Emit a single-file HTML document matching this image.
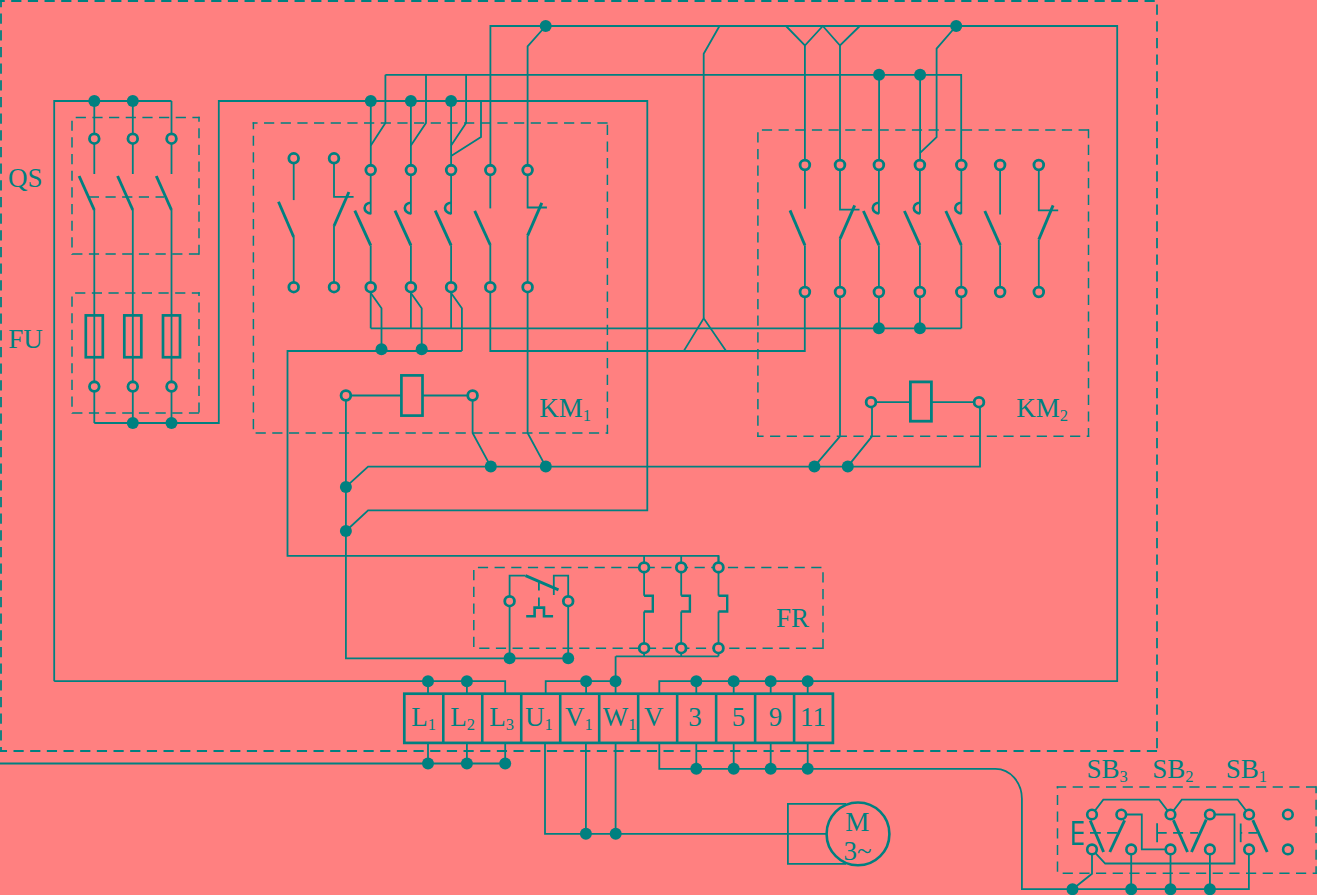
<!DOCTYPE html><html><head><meta charset="utf-8"><style>html,body{margin:0;padding:0;background:#ff8080;}svg{display:block}text{font-family:"Liberation Serif",serif;fill:#008080}</style></head><body>
<svg width="1317" height="895" viewBox="0 0 1317 895">
<rect width="1317" height="895" fill="#ff8080"/>
<g fill="none" stroke="#008080" stroke-width="1.5" stroke-dasharray="10.5 6.2">
</g>
<g fill="none" stroke="#008080" stroke-width="1.8" stroke-linejoin="miter">
<path d="M54.2,681.2V101H171.5"/>
<path d="M94.3,101V138.7"/>
<path d="M94.3,138.7V174"/>
<path d="M94.3,210V423"/>
<path d="M132.8,101V138.7"/>
<path d="M132.8,138.7V174"/>
<path d="M132.8,210V423"/>
<path d="M171.5,101V138.7"/>
<path d="M171.5,138.7V174"/>
<path d="M171.5,210V423"/>
<path d="M94.3,423H218.8V101H647.3V510.3H368.1L345.9,531"/>
<path d="M385.4,74.8V123L370.8,145.5"/>
<path d="M426.0,74.8V123L410.9,145.5"/>
<path d="M466.1,74.8V123L451.1,145.5"/>
<path d="M385.4,74.8H961.2V165"/>
<path d="M481,101V137.1L451.1,156"/>
<path d="M370.8,101V170.1"/>
<path d="M410.9,101V170.1"/>
<path d="M451.1,101V170.1"/>
<path d="M490.4,170.1V26.0H1117.2V681.2H659.3V693.6"/>
<path d="M545.7,26.0L527.6,46.4V170.1"/>
<path d="M293.7,158.3V200.1"/>
<path d="M293.7,237V287.2"/>
<path d="M334,158.3V196.8H353.6"/>
<path d="M334,226V287.2"/>
<path d="M370.7,170.1V214.3"/>
<path d="M370.7,245.3V328.3"/>
<path d="M370.7,293L381.5,308.2V351"/>
<path d="M410.9,170.1V214.3"/>
<path d="M410.9,245.3V328.3"/>
<path d="M410.9,293L421.7,308.2V351"/>
<path d="M451.1,170.1V214.3"/>
<path d="M451.1,245.3V328.3"/>
<path d="M451.1,293L461.90000000000003,308.2V351"/>
<path d="M490.3,170.1V208.4"/>
<path d="M490.3,245V351H804.8V292"/>
<path d="M527.6,170.1V207.5H546.9"/>
<path d="M527.6,235.6V432.9L545.8,466.6"/>
<path d="M370.7,328.3H961.3"/>
<path d="M461.8,351H287.5V555.9H718.5V567.4"/>
<path d="M345.9,395.5H472.6"/>
<path d="M345.9,395.5V658.3H568.2V601.2"/>
<path d="M509.6,658.3V601.2"/>
<path d="M472.6,395.5V432.9L490.8,466.6"/>
<path d="M345.9,486.9L368.1,466.6H980V402.2"/>
<path d="M719.5,26.0L703.7,53.8V318.3"/>
<path d="M683.7,351.1L703.7,318.3L726.1,351.1"/>
<path d="M786,26.0L804.9,45.5L822.8,26.0L840,45.5L859.8,26.0"/>
<path d="M804.9,45.5V165"/>
<path d="M840,45.5V165"/>
<path d="M879.1,74.8V165"/>
<path d="M920.1,74.8V165"/>
<path d="M956.2,26.0L936.6,48.7V137.1L920.1,152.9"/>
<path d="M804.9,165V208.8"/>
<path d="M804.9,245.2V292"/>
<path d="M840,165V209.7H859.5"/>
<path d="M840,238.8V436.4L814.4,466.4"/>
<path d="M878.9,165V213.8"/>
<path d="M878.9,245.2V292"/>
<path d="M919.9,165V213.8"/>
<path d="M919.9,245.2V292"/>
<path d="M961.3,165V213.8"/>
<path d="M961.3,245.2V292"/>
<path d="M878.9,292V328.3"/>
<path d="M919.9,292V328.3"/>
<path d="M961.3,292V328.3"/>
<path d="M1000.1,165V214.5"/>
<path d="M1000.1,245.2V292"/>
<path d="M1038.8,165V210.4H1058.2"/>
<path d="M1038.8,239.5V292"/>
<path d="M871,402.2H979"/>
<path d="M872,402.2V436.4L847.8,466.4"/>
<path d="M644.1,555.9V595.7"/>
<path d="M644.1,611.5V656.3"/>
<path d="M681.2,555.9V595.7"/>
<path d="M681.2,611.5V656.3"/>
<path d="M718.5,555.9V595.7"/>
<path d="M718.5,611.5V656.3"/>
<path d="M615.8,656.3H718.5"/>
<path d="M615.6,656.3V693.6M615.6,742.9V833.8"/>
<path d="M509.6,601.2V575.6H525.5"/>
<path d="M568.2,601.2V575.6H553.8V594.9"/>
<path d="M538.9,582.5V590.5M538.9,597.4V606.5"/>
<path d="M54.2,681.2H505.2V693.6"/>
<path d="M428,681.2V693.6"/>
<path d="M466.9,681.2V693.6"/>
<path d="M545.7,693.6V681.2H615.5"/>
<path d="M586.1,681.2V693.6"/>
<path d="M696.3,681.2V693.6"/>
<path d="M696.3,742.9V768.8"/>
<path d="M733.7,681.2V693.6"/>
<path d="M733.7,742.9V768.8"/>
<path d="M770.7,681.2V693.6"/>
<path d="M770.7,742.9V768.8"/>
<path d="M807.7,681.2V693.6"/>
<path d="M807.7,742.9V768.8"/>
<path d="M0,763.5H505.2V742.9"/>
<path d="M428,742.9V763.5"/>
<path d="M466.9,742.9V763.5"/>
<path d="M545,742.9V833.8H826.5"/>
<path d="M585.9,742.9V833.8"/>
<path d="M659.3,742.9V768.8H995.5A26.4,30 0 0 1 1021.9,798.9V889.2H1248.9V849.4"/>
<path d="M846,803.8H787.9V863.9H846"/>
<path d="M1090,832.8H1100.8M1107.1,832.8H1117.5"/>
<path d="M1157.1,823.2V842.3"/>
<path d="M1157.1,832.8H1166.7M1173.1,832.8H1183.1M1190.2,832.8H1198.2"/>
<path d="M1240.7,823.5V842.2"/>
<path d="M1240.7,832.8H1242.2M1248.4,832.8H1257.1"/>
<path d="M1092,814.5L1103.3,799.7H1159.2L1170.5,814.5L1181.8,799.7H1237.7L1249.1,814.5"/>
<path d="M1121.3,814.5H1141.8V849.4H1170.5"/>
<path d="M1209.9,814.5H1234.5V863.5H1105.2L1092,849.4V873.8L1072.5,889.2"/>
<path d="M1131.2,849.4V889.2"/>
<path d="M1170.5,849.4V889.2"/>
<path d="M1209.9,849.4V889.2"/>
</g>
<g fill="none" stroke="#008080" stroke-width="2.9">
<path d="M79.1,176L94.3,210"/>
<path d="M117.60000000000001,176L132.8,210"/>
<path d="M156.3,176L171.5,210"/>
<path d="M278.5,201.8L293.7,237"/>
<path d="M348.9,192L334,226"/>
<path d="M354.8,210.7L370.7,245.3"/>
<path d="M395.0,210.7L410.9,245.3"/>
<path d="M435.20000000000005,210.7L451.1,245.3"/>
<path d="M474.7,210.8L490.3,245"/>
<path d="M541.8,202.8L527.6,235.6"/>
<path d="M790,210.4L804.9,245.2"/>
<path d="M854.7,205.4L840,238.8"/>
<path d="M863.4,211L878.9,245.2"/>
<path d="M904.4,211L919.9,245.2"/>
<path d="M945.8,211L961.3,245.2"/>
<path d="M984.8,211L1000.1,245.2"/>
<path d="M1053.1,205.4L1038.8,239.5"/>
<path d="M525.5,575.6L558.5,589.8"/>
<path d="M1090.2,820.5L1103.6,852"/>
<path d="M1124.6,820.3L1109.8,852"/>
<path d="M1173.4,820.1L1187.5,852"/>
<path d="M1206.2,819.6L1191.5,852"/>
<path d="M1252.8,820.1L1267.2,852"/>
</g>
<path d="M0.10,1H1157.90" fill="none" stroke="#008080" stroke-width="1.8" stroke-dasharray="10.2 6.467" stroke-dashoffset="5.57"/>
<path d="M1,0.10V751.90" fill="none" stroke="#008080" stroke-width="1.8" stroke-dasharray="10.2 6.467" stroke-dashoffset="3.17"/>
<path d="M1157,0.10V751.90" fill="none" stroke="#008080" stroke-width="1.8" stroke-dasharray="10.2 6.467" stroke-dashoffset="12.17"/>
<path d="M0.10,751H1157.90" fill="none" stroke="#008080" stroke-width="1.8" stroke-dasharray="10.2 6.467" stroke-dashoffset="3.27"/>
<path d="M71.25,117.6H199.75" fill="none" stroke="#008080" stroke-width="1.5" stroke-dasharray="10.2 6.467" stroke-dashoffset="12.20"/>
<path d="M72,116.85V254.65" fill="none" stroke="#008080" stroke-width="1.5" stroke-dasharray="10.2 6.467" stroke-dashoffset="12.88"/>
<path d="M199,116.85V254.65" fill="none" stroke="#008080" stroke-width="1.5" stroke-dasharray="10.2 6.467" stroke-dashoffset="5.38"/>
<path d="M71.25,253.9H199.75" fill="none" stroke="#008080" stroke-width="1.5" stroke-dasharray="10.2 6.467" stroke-dashoffset="15.70"/>
<path d="M88.50,197.1H164.00" fill="none" stroke="#008080" stroke-width="1.5" stroke-dasharray="10.2 6.467" stroke-dashoffset="16.33"/>
<path d="M71.25,293H199.75" fill="none" stroke="#008080" stroke-width="1.5" stroke-dasharray="10.2 6.467" stroke-dashoffset="12.77"/>
<path d="M72,292.25V413.75" fill="none" stroke="#008080" stroke-width="1.5" stroke-dasharray="10.2 6.467" stroke-dashoffset="12.43"/>
<path d="M199,292.25V413.75" fill="none" stroke="#008080" stroke-width="1.5" stroke-dasharray="10.2 6.467" stroke-dashoffset="6.51"/>
<path d="M71.25,413H199.75" fill="none" stroke="#008080" stroke-width="1.5" stroke-dasharray="10.2 6.467" stroke-dashoffset="15.70"/>
<rect x="85.8" y="315.4" width="17" height="41.85" fill="none" stroke="#008080" stroke-width="2.7"/>
<rect x="124.3" y="315.4" width="17" height="41.85" fill="none" stroke="#008080" stroke-width="2.7"/>
<rect x="163.0" y="315.4" width="17" height="41.85" fill="none" stroke="#008080" stroke-width="2.7"/>
<path d="M252.65,123.1H608.15" fill="none" stroke="#008080" stroke-width="1.5" stroke-dasharray="10.2 6.467" stroke-dashoffset="5.27"/>
<path d="M253.4,122.35V433.65" fill="none" stroke="#008080" stroke-width="1.5" stroke-dasharray="10.2 6.467" stroke-dashoffset="3.38"/>
<path d="M607.4,122.35V433.65" fill="none" stroke="#008080" stroke-width="1.5" stroke-dasharray="10.2 6.467" stroke-dashoffset="14.25"/>
<path d="M252.65,432.9H608.15" fill="none" stroke="#008080" stroke-width="1.5" stroke-dasharray="10.2 6.467" stroke-dashoffset="13.72"/>
<path d="M370.7,202.8A6.1,5.3 0 0 0 370.7,213.4" fill="none" stroke="#008080" stroke-width="2.6"/>
<path d="M410.9,202.8A6.1,5.3 0 0 0 410.9,213.4" fill="none" stroke="#008080" stroke-width="2.6"/>
<path d="M451.1,202.8A6.1,5.3 0 0 0 451.1,213.4" fill="none" stroke="#008080" stroke-width="2.6"/>
<rect x="401.4" y="375.4" width="21.1" height="40.2" fill="#ff8080" stroke="#008080" stroke-width="2.7"/>
<path d="M757.15,130H1089.25" fill="none" stroke="#008080" stroke-width="1.5" stroke-dasharray="10.2 6.467" stroke-dashoffset="11.92"/>
<path d="M757.9,129.25V436.95" fill="none" stroke="#008080" stroke-width="1.5" stroke-dasharray="10.2 6.467" stroke-dashoffset="13.65"/>
<path d="M1088.5,129.25V436.95" fill="none" stroke="#008080" stroke-width="1.5" stroke-dasharray="10.2 6.467" stroke-dashoffset="1.18"/>
<path d="M757.15,436.2H1089.25" fill="none" stroke="#008080" stroke-width="1.5" stroke-dasharray="10.2 6.467" stroke-dashoffset="3.75"/>
<path d="M878.9,202.8A6.1,5.3 0 0 0 878.9,213.4" fill="none" stroke="#008080" stroke-width="2.6"/>
<path d="M919.9,202.8A6.1,5.3 0 0 0 919.9,213.4" fill="none" stroke="#008080" stroke-width="2.6"/>
<path d="M961.3,202.8A6.1,5.3 0 0 0 961.3,213.4" fill="none" stroke="#008080" stroke-width="2.6"/>
<rect x="910.4" y="381.9" width="21" height="39.3" fill="#ff8080" stroke="#008080" stroke-width="2.8"/>
<path d="M473.05,567.4H823.75" fill="none" stroke="#008080" stroke-width="1.5" stroke-dasharray="10.2 6.467" stroke-dashoffset="11.80"/>
<path d="M473.8,566.65V648.95" fill="none" stroke="#008080" stroke-width="1.5" stroke-dasharray="10.2 6.467" stroke-dashoffset="13.20"/>
<path d="M823,566.65V648.95" fill="none" stroke="#008080" stroke-width="1.5" stroke-dasharray="10.2 6.467" stroke-dashoffset="11.00"/>
<path d="M473.05,648.2H823.75" fill="none" stroke="#008080" stroke-width="1.5" stroke-dasharray="10.2 6.467" stroke-dashoffset="10.50"/>
<path d="M644.1,595.7H652.8000000000001V611.5H644.1" fill="none" stroke="#008080" stroke-width="2.4"/>
<path d="M681.2,595.7H689.9000000000001V611.5H681.2" fill="none" stroke="#008080" stroke-width="2.4"/>
<path d="M718.5,595.7H727.2V611.5H718.5" fill="none" stroke="#008080" stroke-width="2.4"/>
<path d="M526.2,616.3H534.6V607.6H544V616.3H553.1" fill="none" stroke="#008080" stroke-width="2.6"/>
<rect x="404.3" y="693.7" width="428.6" height="49.2" fill="none" stroke="#008080" stroke-width="2.7"/>
<path d="M443.28,693.7V742.9" stroke="#008080" stroke-width="2.6"/>
<path d="M482.26,693.7V742.9" stroke="#008080" stroke-width="2.6"/>
<path d="M521.24,693.7V742.9" stroke="#008080" stroke-width="2.6"/>
<path d="M560.22,693.7V742.9" stroke="#008080" stroke-width="2.6"/>
<path d="M599.2,693.7V742.9" stroke="#008080" stroke-width="2.6"/>
<path d="M638.18,693.7V742.9" stroke="#008080" stroke-width="2.6"/>
<path d="M677.16,693.7V742.9" stroke="#008080" stroke-width="2.6"/>
<path d="M716.14,693.7V742.9" stroke="#008080" stroke-width="2.6"/>
<path d="M755.12,693.7V742.9" stroke="#008080" stroke-width="2.6"/>
<path d="M794.1,693.7V742.9" stroke="#008080" stroke-width="2.6"/>
<circle cx="858" cy="833.9" r="31.4" fill="none" stroke="#008080" stroke-width="2.6"/>
<path d="M1056.75,787.1H1316.85" fill="none" stroke="#008080" stroke-width="1.5" stroke-dasharray="10.2 6.467" stroke-dashoffset="0.75"/>
<path d="M1057.5,786.35V873.95" fill="none" stroke="#008080" stroke-width="1.5" stroke-dasharray="10.2 6.467" stroke-dashoffset="8.11"/>
<path d="M1316.1,786.35V873.95" fill="none" stroke="#008080" stroke-width="1.5" stroke-dasharray="10.2 6.467" stroke-dashoffset="3.35"/>
<path d="M1056.75,873.2H1316.85" fill="none" stroke="#008080" stroke-width="1.5" stroke-dasharray="10.2 6.467" stroke-dashoffset="10.75"/>
<path d="M1083.6,822.2H1073.4V843.8H1083.6M1073.4,832.9H1083.6" fill="none" stroke="#008080" stroke-width="2.4"/>
<g fill="#ff8080" stroke="#008080">
<circle cx="94.3" cy="138.7" r="4.85" stroke-width="2.8"/>
<circle cx="94.3" cy="386.6" r="4.85" stroke-width="2.8"/>
<circle cx="132.8" cy="138.7" r="4.85" stroke-width="2.8"/>
<circle cx="132.8" cy="386.6" r="4.85" stroke-width="2.8"/>
<circle cx="171.5" cy="138.7" r="4.85" stroke-width="2.8"/>
<circle cx="171.5" cy="386.6" r="4.85" stroke-width="2.8"/>
<circle cx="293.7" cy="158.3" r="4.85" stroke-width="2.8"/>
<circle cx="293.7" cy="287.2" r="4.85" stroke-width="2.8"/>
<circle cx="334" cy="158.3" r="4.85" stroke-width="2.8"/>
<circle cx="334" cy="287.2" r="4.85" stroke-width="2.8"/>
<circle cx="370.7" cy="170.1" r="4.85" stroke-width="2.8"/>
<circle cx="370.7" cy="287.2" r="4.85" stroke-width="2.8"/>
<circle cx="410.9" cy="170.1" r="4.85" stroke-width="2.8"/>
<circle cx="410.9" cy="287.2" r="4.85" stroke-width="2.8"/>
<circle cx="451.1" cy="170.1" r="4.85" stroke-width="2.8"/>
<circle cx="451.1" cy="287.2" r="4.85" stroke-width="2.8"/>
<circle cx="490.3" cy="170.1" r="4.85" stroke-width="2.8"/>
<circle cx="490.3" cy="287.2" r="4.85" stroke-width="2.8"/>
<circle cx="527.6" cy="170.1" r="4.85" stroke-width="2.8"/>
<circle cx="527.6" cy="287.2" r="4.85" stroke-width="2.8"/>
<circle cx="345.9" cy="395.5" r="4.85" stroke-width="2.8"/>
<circle cx="472.6" cy="395.5" r="4.85" stroke-width="2.8"/>
<circle cx="804.9" cy="165" r="4.85" stroke-width="2.8"/>
<circle cx="804.9" cy="292" r="4.85" stroke-width="2.8"/>
<circle cx="840.0" cy="165" r="4.85" stroke-width="2.8"/>
<circle cx="840.0" cy="292" r="4.85" stroke-width="2.8"/>
<circle cx="878.9" cy="165" r="4.85" stroke-width="2.8"/>
<circle cx="878.9" cy="292" r="4.85" stroke-width="2.8"/>
<circle cx="919.9" cy="165" r="4.85" stroke-width="2.8"/>
<circle cx="919.9" cy="292" r="4.85" stroke-width="2.8"/>
<circle cx="961.3" cy="165" r="4.85" stroke-width="2.8"/>
<circle cx="961.3" cy="292" r="4.85" stroke-width="2.8"/>
<circle cx="1000.1" cy="165" r="4.85" stroke-width="2.8"/>
<circle cx="1000.1" cy="292" r="4.85" stroke-width="2.8"/>
<circle cx="1038.8" cy="165" r="4.85" stroke-width="2.8"/>
<circle cx="1038.8" cy="292" r="4.85" stroke-width="2.8"/>
<circle cx="871" cy="402.2" r="4.85" stroke-width="2.8"/>
<circle cx="979" cy="402.2" r="4.85" stroke-width="2.8"/>
<circle cx="644.1" cy="567.4" r="4.85" stroke-width="2.8"/>
<circle cx="644.1" cy="648.2" r="4.85" stroke-width="2.8"/>
<circle cx="681.2" cy="567.4" r="4.85" stroke-width="2.8"/>
<circle cx="681.2" cy="648.2" r="4.85" stroke-width="2.8"/>
<circle cx="718.5" cy="567.4" r="4.85" stroke-width="2.8"/>
<circle cx="718.5" cy="648.2" r="4.85" stroke-width="2.8"/>
<circle cx="509.6" cy="601.2" r="4.85" stroke-width="2.8"/>
<circle cx="568.2" cy="601.2" r="4.85" stroke-width="2.8"/>
<circle cx="1092" cy="814.5" r="4.8" stroke-width="2.6"/>
<circle cx="1121.3" cy="814.5" r="4.8" stroke-width="2.6"/>
<circle cx="1092" cy="849.4" r="4.8" stroke-width="2.6"/>
<circle cx="1131.2" cy="849.4" r="4.8" stroke-width="2.6"/>
<circle cx="1170.5" cy="814.5" r="4.8" stroke-width="2.6"/>
<circle cx="1209.9" cy="814.5" r="4.8" stroke-width="2.6"/>
<circle cx="1170.5" cy="849.4" r="4.8" stroke-width="2.6"/>
<circle cx="1209.9" cy="849.4" r="4.8" stroke-width="2.6"/>
<circle cx="1249.1" cy="814.5" r="4.8" stroke-width="2.6"/>
<circle cx="1249.1" cy="849.4" r="4.8" stroke-width="2.6"/>
<circle cx="1287.9" cy="814.5" r="4.8" stroke-width="2.6"/>
<circle cx="1287.9" cy="849.4" r="4.8" stroke-width="2.6"/>
</g>
<g fill="#008080">
<circle cx="94.3" cy="101" r="6.0"/>
<circle cx="132.8" cy="101" r="6.0"/>
<circle cx="132.8" cy="423" r="6.0"/>
<circle cx="171.5" cy="423" r="6.0"/>
<circle cx="370.8" cy="101" r="6.0"/>
<circle cx="410.9" cy="101" r="6.0"/>
<circle cx="451.1" cy="101" r="6.0"/>
<circle cx="545.7" cy="26.0" r="6.0"/>
<circle cx="381.5" cy="349.3" r="6.0"/>
<circle cx="421.7" cy="349.3" r="6.0"/>
<circle cx="345.9" cy="486.9" r="6.0"/>
<circle cx="345.9" cy="531" r="6.0"/>
<circle cx="490.8" cy="466.6" r="6.0"/>
<circle cx="545.8" cy="466.6" r="6.0"/>
<circle cx="879.1" cy="74.8" r="6.0"/>
<circle cx="920.1" cy="74.8" r="6.0"/>
<circle cx="956.2" cy="26.0" r="6.0"/>
<circle cx="878.9" cy="328.3" r="6.0"/>
<circle cx="919.9" cy="328.3" r="6.0"/>
<circle cx="814.4" cy="466.4" r="6.0"/>
<circle cx="847.8" cy="466.4" r="6.0"/>
<circle cx="509.6" cy="658.3" r="6.0"/>
<circle cx="568.2" cy="658.3" r="6.0"/>
<circle cx="428" cy="681.2" r="6.0"/>
<circle cx="466.9" cy="681.2" r="6.0"/>
<circle cx="586.1" cy="681.2" r="6.0"/>
<circle cx="615.5" cy="681.2" r="6.0"/>
<circle cx="696.3" cy="681.2" r="6.0"/>
<circle cx="696.3" cy="768.8" r="6.0"/>
<circle cx="733.7" cy="681.2" r="6.0"/>
<circle cx="733.7" cy="768.8" r="6.0"/>
<circle cx="770.7" cy="681.2" r="6.0"/>
<circle cx="770.7" cy="768.8" r="6.0"/>
<circle cx="807.7" cy="681.2" r="6.0"/>
<circle cx="807.7" cy="768.8" r="6.0"/>
<circle cx="428" cy="763.5" r="6.0"/>
<circle cx="466.9" cy="763.5" r="6.0"/>
<circle cx="505.2" cy="763.5" r="6.0"/>
<circle cx="585.9" cy="833.8" r="6.0"/>
<circle cx="615.7" cy="833.8" r="6.0"/>
<circle cx="1072.5" cy="889.2" r="6.0"/>
<circle cx="1131.2" cy="889.2" r="6.0"/>
<circle cx="1170.5" cy="889.2" r="6.0"/>
<circle cx="1209.9" cy="889.2" r="6.0"/>
</g>
<text x="8.0" y="186.6" font-size="27" text-anchor="start">QS</text>
<text x="8.3" y="347.6" font-size="27" text-anchor="start">FU</text>
<text x="539.3" y="417.3" font-size="27" text-anchor="start">KM<tspan font-size="16.5" dy="4.1">1</tspan></text>
<text x="1016.3" y="417.0" font-size="27" text-anchor="start">KM<tspan font-size="16.5" dy="4.1">2</tspan></text>
<text x="776.0" y="627.4" font-size="27" text-anchor="start">FR</text>
<text x="423.7" y="726.3" font-size="27" text-anchor="middle">L<tspan font-size="16.5" dy="3.4">1</tspan></text>
<text x="462.7" y="726.3" font-size="27" text-anchor="middle">L<tspan font-size="16.5" dy="3.4">2</tspan></text>
<text x="501.7" y="726.3" font-size="27" text-anchor="middle">L<tspan font-size="16.5" dy="3.4">3</tspan></text>
<text x="538.8" y="726.3" font-size="27" text-anchor="middle">U<tspan font-size="16.5" dy="3.4">1</tspan></text>
<text x="578.8" y="726.3" font-size="27" text-anchor="middle">V<tspan font-size="16.5" dy="3.4">1</tspan></text>
<text x="619.7" y="726.3" font-size="27" text-anchor="middle">W<tspan font-size="16.5" dy="3.4">1</tspan></text>
<text x="653.8" y="726.3" font-size="27" text-anchor="middle">V</text>
<text x="694.9" y="726.3" font-size="27" text-anchor="middle">3</text>
<text x="738.5" y="726.3" font-size="27" text-anchor="middle">5</text>
<text x="775.6" y="726.3" font-size="27" text-anchor="middle">9</text>
<text x="813.1" y="726.3" font-size="27" text-anchor="middle">11</text>
<text x="857.3" y="831.1" font-size="27" text-anchor="middle">M</text>
<text x="843.5" y="859.6" font-size="27" text-anchor="start">3~</text>
<text x="1086.4" y="778.0" font-size="27" text-anchor="start">SB<tspan font-size="16.5" dy="4.1">3</tspan></text>
<text x="1152.2" y="778.0" font-size="27" text-anchor="start">SB<tspan font-size="16.5" dy="4.1">2</tspan></text>
<text x="1225.8" y="778.0" font-size="27" text-anchor="start">SB<tspan font-size="16.5" dy="4.1">1</tspan></text>
</svg></body></html>
